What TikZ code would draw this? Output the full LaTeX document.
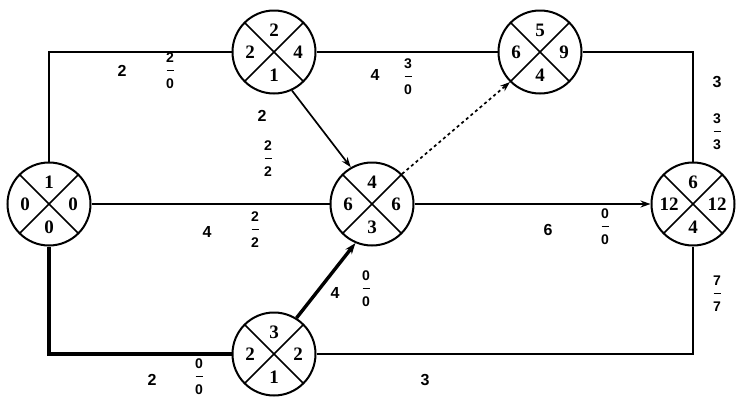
\documentclass[tikz,border=0pt]{standalone}
\usepackage{fontspec}
\setmainfont{Liberation Serif}
\setsansfont{Liberation Sans}
\usetikzlibrary{arrows.meta}
\tikzset{
      eventcircle/.style={
        circle,
        draw,
        line width=2pt,
        minimum size=83pt,
        inner sep=0pt,
        path picture={
          \draw[line width=1.5pt] (path picture bounding box.north west) -- (path picture bounding box.south east);
          \draw[line width=1.5pt] (path picture bounding box.south west) -- (path picture bounding box.north east);
        }
      },
      evnum/.style={font=\fontsize{19}{22}\selectfont\bfseries, inner sep=0pt},
      durlabel/.style={font=\fontsize{16}{18}\selectfont\sffamily\bfseries, inner sep=0pt},
      slacklabel/.style={font=\fontsize{14}{15}\selectfont\sffamily\bfseries, inner sep=0pt},
      activity/.style={line width=1.7pt},
      critical/.style={line width=3.4pt}
    }
% event circle: name, position, top, left, right, bottom
\newcommand{\eventnode}[6]{%
  \node[eventcircle] (#1) at #2 {};
  \node[evnum] (#1t) at ([yshift=22pt]#1.center) {#3};
  \node[evnum] (#1l) at ([xshift=-24pt]#1.center) {#4};
  \node[evnum] (#1r) at ([xshift=24pt]#1.center) {#5};
  \node[evnum] (#1b) at ([yshift=-23pt]#1.center) {#6};
}
\newcommand{\slackfrac}[2]{\begin{tabular}{@{}c@{}}#1\\[-2pt]\rule[4.5pt]{7pt}{1pt}\\[-2pt]#2\end{tabular}}

\begin{document}
\begin{tikzpicture}[x=1pt,y=-1pt]
    \useasboundingbox (0,0) rectangle (737,397);
    \eventnode{e1}{(49,204)}{1}{0}{0}{0}
    \eventnode{e2}{(274,52)}{2}{2}{4}{1}
    \eventnode{e3}{(540,52)}{5}{6}{9}{4}
    \eventnode{e4}{(372,204)}{4}{6}{6}{3}
    \eventnode{e5}{(693,204)}{6}{12}{12}{4}
    \eventnode{e6}{(274,354)}{3}{2}{2}{1}
    \draw[activity] (e1.north) |- (e2.west);
    \draw[activity] (e2.east) -- (e3.west);
    \draw[activity] (e3.east) -| (e5.north);
    \draw[activity] (e1.east) -- (e4.west);
    \draw[activity] (e6.east) -| (e5.south);
    \draw[activity, -{Stealth[length=10pt,width=7pt]}] (e2.-65) -- (e4.120);
    \draw[activity, dashed, -{Stealth[length=10pt,width=7pt]}] (e4.45) -- (e3.225);
    \draw[line width=2.4pt, -{Stealth[length=10pt,width=7pt]}] (e4.east) -- (e5.west);
    \draw[critical] (e1.south) |- (e6.west);
    \draw[critical, -{Stealth[length=11pt,width=8pt]}] (e6.58) -- (e4.247);
    \node[durlabel] (d12) at (122,71) {2};
    \node[slacklabel] (s12) at (170,72) {\slackfrac{2}{0}};
    \node[durlabel] (d23) at (375,75) {4};
    \node[slacklabel] (s23) at (408,78) {\slackfrac{3}{0}};
    \node[durlabel] (d35) at (717,82) {3};
    \node[slacklabel] (s35) at (717,133) {\slackfrac{3}{3}};
    \node[durlabel] (d24) at (262,116) {2};
    \node[slacklabel] (s24) at (268,160) {\slackfrac{2}{2}};
    \node[durlabel] (d14) at (207,232) {4};
    \node[slacklabel] (s14) at (255,231) {\slackfrac{2}{2}};
    \node[durlabel] (d45) at (548,230) {6};
    \node[slacklabel] (s45) at (605,228) {\slackfrac{0}{0}};
    \node[durlabel] (d64) at (335,293) {4};
    \node[slacklabel] (s64) at (366,290) {\slackfrac{0}{0}};
    \node[durlabel] (d16) at (152,380) {2};
    \node[slacklabel] (s16) at (199,378) {\slackfrac{0}{0}};
    \node[durlabel] (d65) at (425,380) {3};
    \node[slacklabel] (s65) at (717,295) {\slackfrac{7}{7}};
    \end{tikzpicture}
\end{document}
